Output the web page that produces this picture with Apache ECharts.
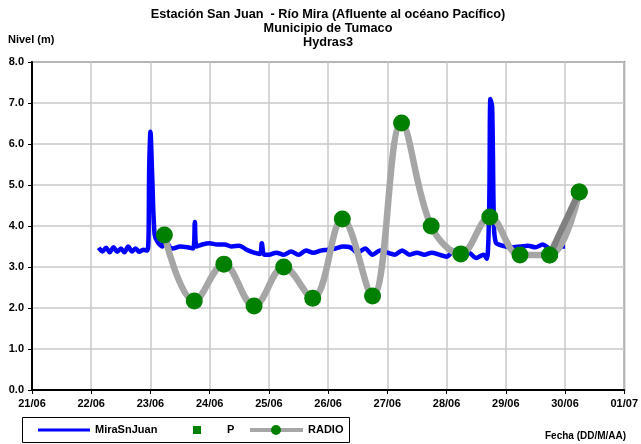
<!DOCTYPE html>
<html><head><meta charset="utf-8">
<script src="https://cdn.jsdelivr.net/npm/echarts@6/dist/echarts.min.js"></script>
<style>html,body{margin:0;padding:0;background:#fff}#c{width:641px;height:444px}</style>
</head><body><div id="c"></div>
<script>
// Tick labels (days since 21/06)
const tickLabels = ['21/06','22/06','23/06','24/06','25/06','26/06','27/06','28/06','29/06','30/06','01/07'];
// MiraSnJuan: time in days since 21/06 00:00, level in m
const miraDays = [1.125,1.19,1.25,1.31,1.375,1.44,1.5,1.56,1.625,1.69,1.75,1.81,1.875,1.95,1.98,2.0,2.03,2.07,2.125,2.2,2.25,2.3,2.375,2.5,2.625,2.72,2.75,2.78,2.875,3.0,3.125,3.25,3.375,3.5,3.625,3.75,3.85,3.88,3.92,4.0,4.125,4.25,4.375,4.5,4.625,4.75,4.875,5.0,5.125,5.25,5.375,5.5,5.625,5.75,5.875,6.0,6.125,6.25,6.375,6.5,6.625,6.75,6.875,7.0,7.125,7.25,7.375,7.5,7.625,7.68,7.72,7.74,7.77,7.8,7.83,7.875,8.0,8.125,8.25,8.375,8.5,8.625,8.75,8.875,9.0];
const miraValues = [3.47,3.38,3.47,3.36,3.48,3.37,3.45,3.36,3.5,3.38,3.45,3.37,3.42,3.40,5.5,6.3,5.2,3.8,3.6,3.5,3.85,3.55,3.45,3.5,3.48,3.45,4.1,3.5,3.55,3.58,3.55,3.55,3.5,3.52,3.42,3.35,3.32,3.58,3.3,3.3,3.35,3.3,3.38,3.3,3.4,3.35,3.4,3.42,3.45,3.5,3.48,3.35,3.45,3.3,3.4,3.35,3.3,3.4,3.3,3.35,3.3,3.35,3.3,3.25,3.4,3.2,3.35,3.22,3.3,3.2,4.5,7.1,6.9,4.0,3.6,3.55,3.5,3.48,3.5,3.52,3.48,3.55,3.45,3.5,3.5];
// RADIO readings
const radioDays = [2.235,2.74,3.24,3.75,4.25,4.74,5.24,5.75,6.24,6.74,7.24,7.73,8.24,8.74,9.24];
const radioValues = [3.78,2.17,3.07,2.05,3.0,2.24,4.17,2.29,6.51,4.0,3.32,4.22,3.29,3.29,4.83];
// P (no readings)
const pDays = [];
const pValues = [];

const pair = (xs, ys) => xs.map((x, i) => [x, ys[i]]);
const radioData = pair(radioDays, radioValues);
const lastSeg = radioData.slice(-2);

const F = 'Liberation Sans, Arial, sans-serif';
const LY = 430;
const chart = echarts.init(document.getElementById('c'), null, {renderer: 'canvas'});
chart.setOption({
  animation: false,
  backgroundColor: '#fff',
  title: {
    text: 'Estación San Juan  - Río Mira (Afluente al océano Pacífico)\nMunicipio de Tumaco\nHydras3',
    left: 328, top: 7, textAlign: 'center', padding: 0,
    textStyle: {fontFamily: F, fontSize: 12.7, fontWeight: 'bold', color: '#000', lineHeight: 14}
  },
  graphic: [
    {type: 'text', left: 8, top: 34, style: {text: 'Nivel (m)', font: 'bold 11px ' + F, fill: '#000'}},
    {type: 'text', left: 545, top: 431, style: {text: 'Fecha (DD/M/AA)', font: 'bold 10px ' + F, fill: '#000'}},
    {type: 'rect', shape: {x: 22.5, y: 417.5, width: 327, height: 25}, style: {fill: '#fff', stroke: '#000', lineWidth: 1}},
    {type: 'line', shape: {x1: 38, y1: LY, x2: 90, y2: LY}, style: {stroke: '#0000ff', lineWidth: 3}},
    {type: 'text', x: 95, y: LY, style: {text: 'MiraSnJuan', font: 'bold 11px ' + F, fill: '#000', verticalAlign: 'middle'}},
    {type: 'rect', shape: {x: 193, y: LY - 4, width: 8, height: 8}, style: {fill: '#008000'}},
    {type: 'text', x: 227, y: LY, style: {text: 'P', font: 'bold 11px ' + F, fill: '#000', verticalAlign: 'middle'}},
    {type: 'line', shape: {x1: 250, y1: LY, x2: 303, y2: LY}, style: {stroke: '#a6a6a6', lineWidth: 4}},
    {type: 'circle', shape: {cx: 276, cy: LY, r: 5}, style: {fill: '#008000'}},
    {type: 'text', x: 308, y: LY, style: {text: 'RADIO', font: 'bold 11px ' + F, fill: '#000', verticalAlign: 'middle'}}
  ],
  grid: {left: 32, right: 14, top: 62, bottom: 54, show: true, borderColor: '#808080', borderWidth: 2, backgroundColor: '#fff'},
  xAxis: {
    type: 'value', min: 0, max: 10, interval: 1,
    axisLine: {show: true, lineStyle: {color: '#000', width: 2}},
    axisTick: {show: true, length: 4, lineStyle: {color: '#000'}},
    axisLabel: {fontFamily: F, fontSize: 11, fontWeight: 'bold', color: '#000', margin: 8,
      formatter: v => tickLabels[Math.round(v)]},
    splitLine: {show: true, lineStyle: {color: '#c8c8c8', width: 1.5}}
  },
  yAxis: {
    type: 'value', min: 0, max: 8, interval: 1,
    axisLine: {show: true, lineStyle: {color: '#000', width: 2}},
    axisTick: {show: true, length: 4, lineStyle: {color: '#000'}},
    axisLabel: {fontFamily: F, fontSize: 11, fontWeight: 'bold', color: '#000', margin: 8,
      formatter: v => v.toFixed(1)},
    splitLine: {show: true, lineStyle: {color: '#c8c8c8', width: 1.5}}
  },
  series: [
    {name: 'MiraSnJuan', type: 'line', data: pair(miraDays, miraValues), showSymbol: false, symbol: 'none',
      lineStyle: {color: '#0000ff', width: 4.5}, itemStyle: {color: '#0000ff'}, smooth: 0.3, z: 2},
    {name: 'P', type: 'line', data: pair(pDays, pValues), symbol: 'rect', symbolSize: 9,
      lineStyle: {width: 0}, itemStyle: {color: '#008000'}},
    {name: 'RADIO', type: 'line', data: radioData, symbol: 'circle', symbolSize: 17, smooth: 0.38,
      lineStyle: {color: '#a6a6a6', width: 6.5}, itemStyle: {color: '#008000'}, z: 3},
    {name: 'RADIO_last', type: 'line', data: lastSeg, symbol: 'circle', symbolSize: 17,
      lineStyle: {color: '#808080', width: 6.5}, itemStyle: {color: '#008000'}, z: 4}
  ]
});
</script></body></html>
